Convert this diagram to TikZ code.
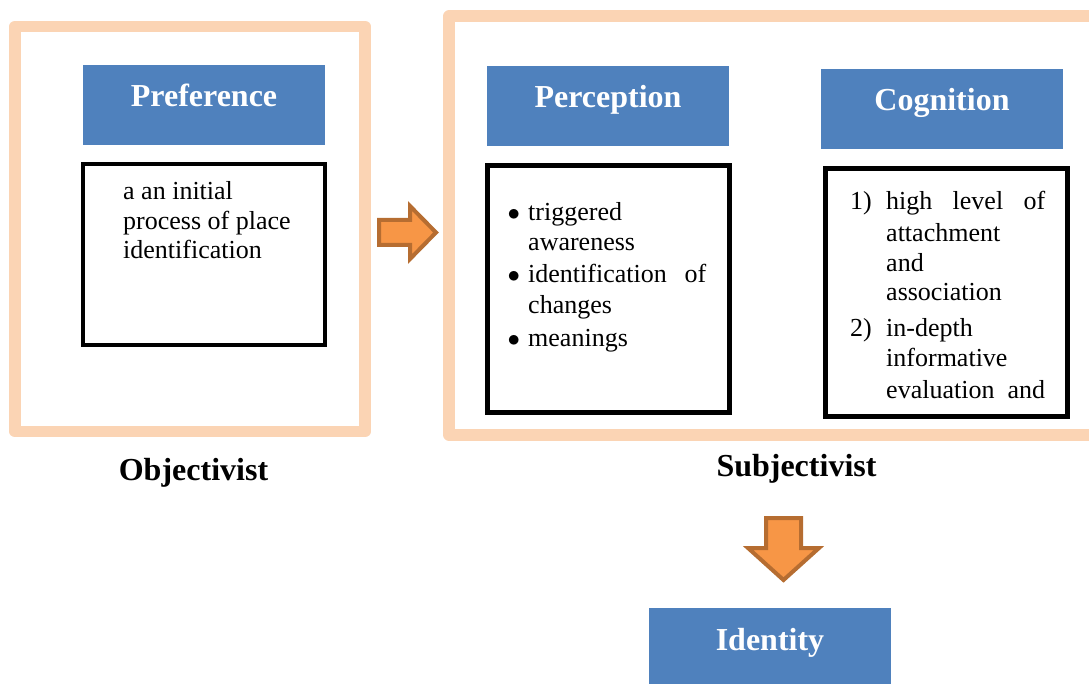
\documentclass[tikz,border=0pt]{standalone}
\usepackage{fontspec}
\setmainfont{Liberation Serif}
\usetikzlibrary{positioning}

\definecolor{headblue}{HTML}{4F81BD}
\definecolor{framepeach}{HTML}{FBD4B4}
\definecolor{arroworange}{HTML}{F79646}
\definecolor{arrowedge}{HTML}{B66D31}

\tikzset{
    frame/.style={draw=framepeach, line width=11.5pt, line join=round},
    head/.style={fill=headblue, text=white, font=\bfseries\fontsize{32}{36}\selectfont,
        inner sep=0pt, outer sep=0pt, minimum width=242pt, minimum height=80pt,
        text height=22pt, text depth=18pt},
    textbox/.style={draw=black, line width=4.5pt, inner sep=0pt, outer sep=0pt,
        minimum width=242pt},
    bodytext/.style={font=\fontsize{26}{30}\selectfont, inner sep=0pt, anchor=base west},
    caption/.style={font=\bfseries\fontsize{32}{36}\selectfont, inner sep=0pt, anchor=base},
    blockarrow/.style={fill=arroworange, draw=arrowedge, line width=4pt, line join=miter},
}

\begin{document}
\begin{tikzpicture}[x=1pt, y=-1pt]
    \useasboundingbox (0,0) rectangle (1089,684);
    \clip (0,0) rectangle (1089,684);

    \draw[frame] (15,26.5) rectangle (365,431.5);
    \draw[frame, line width=12pt] (449,16.5) rectangle (1110,434.5);

    \node[head] (pref) at (204,105) {Preference};
    \node[head] (perc) at (608,106) {Perception};
    \node[head, right=92pt of perc, yshift=-3pt] (cogn) {Cognition};
    \node[head] (ident) at (770,648) {Identity};

    \node[textbox, minimum height=181pt, below=19pt of pref] (prefbox) {};
    \node[textbox, line width=5pt, minimum height=247pt, below=19.5pt of perc] (percbox) {};
    \node[textbox, line width=5pt, minimum height=248pt, below=19.5pt of cogn, xshift=4.5pt] (cognbox) {};

    \node[bodytext] (pref-a) at (123,200) {a an initial};
    \node[bodytext] (pref-b) at (123,229.5) {process of place};
    \node[bodytext] (pref-c) at (123,259) {identification};

    \node[bodytext] (perc-d1) at (507.5,221) {$\bullet$};
    \node[bodytext] (perc-a) at (528,221) {triggered};
    \node[bodytext] (perc-b) at (528,251) {awareness};
    \node[bodytext] (perc-d2) at (507.5,283) {$\bullet$};
    \node[bodytext] (perc-c) at (528,283) {\makebox[178pt][s]{identification of}};
    \node[bodytext] (perc-d) at (528,314) {changes};
    \node[bodytext] (perc-d3) at (507.5,346.5) {$\bullet$};
    \node[bodytext] (perc-e) at (528,346.5) {meanings};

    \node[bodytext] (cogn-n1) at (850,210) {1)};
    \node[bodytext] (cogn-a) at (886,210) {\makebox[159pt][s]{high level of}};
    \node[bodytext] (cogn-b) at (886,241.5) {attachment};
    \node[bodytext] (cogn-c) at (886,271.5) {and};
    \node[bodytext] (cogn-d) at (886,300.5) {association};
    \node[bodytext] (cogn-n2) at (850,336.5) {2)};
    \node[bodytext] (cogn-e) at (886,336.5) {in-depth};
    \node[bodytext] (cogn-f) at (886,366.5) {informative};
    \node[bodytext] (cogn-g) at (886,398) {\makebox[159pt][s]{evaluation and}};

    \node[caption] (obj) at (193.5,480) {Objectivist};
    \node[caption] (subj) at (796.5,476) {Subjectivist};

    \draw[blockarrow] (379,220) -- (410,220) -- (410,206) -- (436,232.5)
        -- (410,259) -- (410,245) -- (379,245) -- cycle;
    \draw[blockarrow] (766,518) -- (801,518) -- (801,548) -- (819,548)
        -- (783.5,580) -- (748,548) -- (766,548) -- cycle;
\end{tikzpicture}
\end{document}
